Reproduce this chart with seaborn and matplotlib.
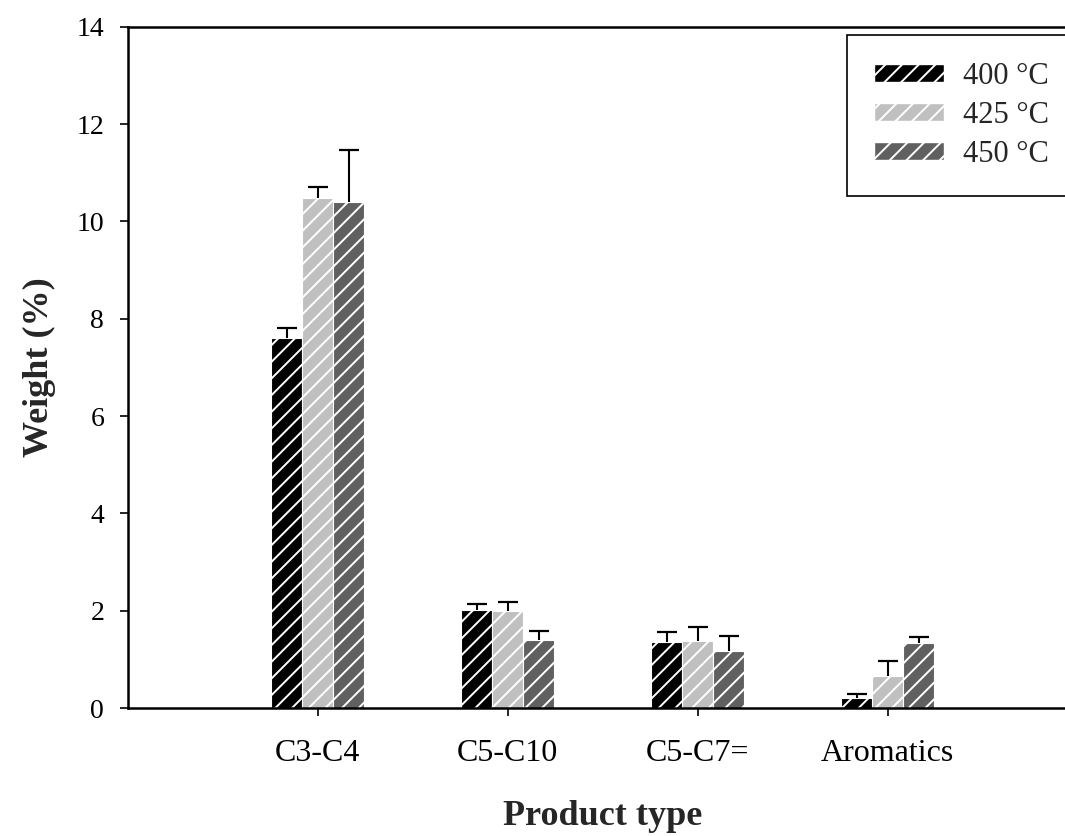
import pandas as pd
import matplotlib
matplotlib.use('Agg')
import matplotlib.pyplot as plt
import seaborn as sns
from matplotlib.patches import Patch

# values
products = ['C3-C4', 'C5-C10', 'C5-C7=', 'Aromatics']
temps = ['400 °C', '425 °C', '450 °C']
w400 = [7.60, 2.02, 1.36, 0.21]
w425 = [10.48, 1.99, 1.38, 0.66]
w450 = [10.40, 1.40, 1.18, 1.33]
e400 = [0.20, 0.12, 0.21, 0.07]
e425 = [0.22, 0.19, 0.29, 0.31]
e450 = [1.07, 0.19, 0.31, 0.14]
colors = ['#000000', '#c0c0c0', '#606060']

rows = []
for t, vals, errs in [(temps[0], w400, e400), (temps[1], w425, e425), (temps[2], w450, e450)]:
    for p, v, e in zip(products, vals, errs):
        rows.append({'product': p, 'temp': t, 'weight': v, 'err': e})
df = pd.DataFrame(rows)

sns.set_style('ticks')
plt.rcParams['font.family'] = ['Liberation Serif', 'DejaVu Serif']
plt.rcParams['hatch.linewidth'] = 1.4

fig = plt.figure(figsize=(10.65, 8.36), dpi=100)
# axes runs slightly past the right edge of the figure, like the original
ax = fig.add_axes([0.120, 0.153, 0.892, 0.815])

sns.barplot(data=df, x='product', y='weight', hue='temp', palette=colors,
            width=0.49, errorbar=None, ax=ax, legend=False, saturation=1)

# hatching + upper error bars only
bar_containers = list(ax.containers)
for i, cont in enumerate(bar_containers):
    errs = df[df['temp'] == temps[i]]['err'].values
    for bar, e in zip(cont, errs):
        bar.set_hatch('//')
        bar.set_edgecolor('white')
        bar.set_linewidth(0.8)
        x = bar.get_x() + bar.get_width() / 2
        _, caps, _ = ax.errorbar(x, bar.get_height(), yerr=[[0], [e]], fmt='none',
                                 ecolor='black', elinewidth=1.5, capsize=7, capthick=1.6)
        caps[0].set_visible(False)

ax.set_xlim(-1, 4)
ax.set_ylim(0, 14)
ax.set_yticks(range(0, 15, 2))
ax.tick_params(axis='both', direction='out', length=6, width=1.2, colors='black')
ax.tick_params(axis='x', labelsize=23, pad=16)
ax.tick_params(axis='y', labelsize=20, pad=11)
for s in ['left', 'bottom', 'top']:
    ax.spines[s].set_linewidth(1.8)
    ax.spines[s].set_color('black')
ax.spines['right'].set_visible(False)

ax.set_xlabel('Product type', fontsize=26, fontweight='bold', labelpad=23)
ax.set_ylabel('Weight (%)', fontsize=26, fontweight='bold', labelpad=15)

handles = [Patch(facecolor=c, edgecolor='white', hatch='//', label=t) for c, t in zip(colors, temps)]
leg = ax.legend(handles=handles, loc='upper left', bbox_to_anchor=(0.757, 0.988),
                fontsize=22, frameon=True, fancybox=False, edgecolor='black',
                handlelength=2.3, handleheight=0.56, borderpad=0.88, labelspacing=0.33,
                handletextpad=0.62, borderaxespad=0)
leg.get_frame().set_linewidth(1.2)
leg.get_frame().set_alpha(1)

fig.savefig('out.png', dpi=100)
